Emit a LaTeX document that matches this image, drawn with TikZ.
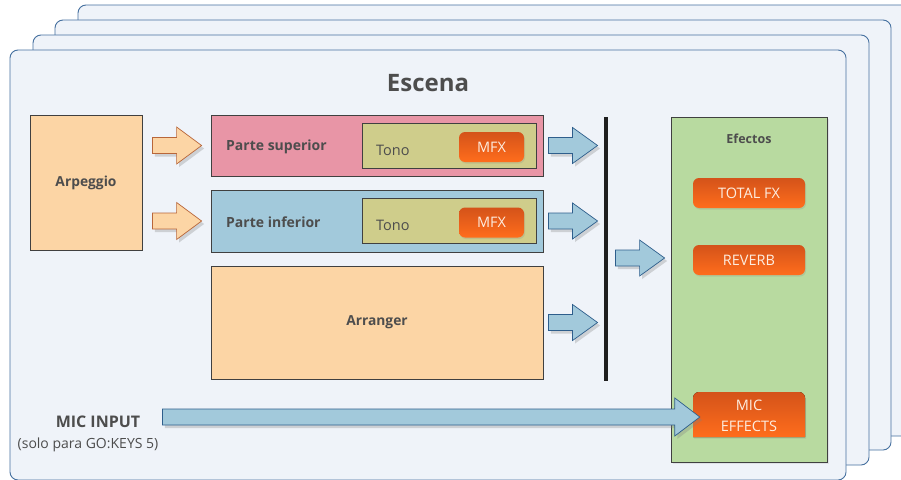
\documentclass[tikz,border=0pt]{standalone}
\usepackage{fontspec}
\setmainfont{Open Sans}
\usetikzlibrary{calc,shadows}
\definecolor{panelfill}{HTML}{EFF3F9}
\definecolor{paneldraw}{HTML}{45709F}
\definecolor{peach}{HTML}{FCD5A5}
\definecolor{pinkbox}{HTML}{E895A6}
\definecolor{bluebox}{HTML}{A2C9DB}
\definecolor{khaki}{HTML}{CFCD8B}
\definecolor{greenbox}{HTML}{B8DAA0}
\definecolor{txt}{HTML}{4D4D4D}
\definecolor{orDark}{HTML}{D4531A}
\definecolor{orLight}{HTML}{FF6D1C}
\definecolor{orArrowDraw}{HTML}{B8663A}
\definecolor{blArrowDraw}{HTML}{2E5E8C}
\definecolor{btntext}{HTML}{FDEDE0}
\newcommand\blockarrow[5][]{%
  \draw[#1] let \p1=#2, \p2=#3 in
   (\x1,\y1+#4pt) -- (\x2-25pt,\y1+#4pt) -- (\x2-25pt,\y1+#5pt) -- (\x2,\y1)
   -- (\x2-25pt,\y1-#5pt) -- (\x2-25pt,\y1-#4pt) -- (\x1,\y1-#4pt) -- cycle;}
\begin{document}
\begin{tikzpicture}[x=1pt,y=-1pt,
  panel/.style={draw=paneldraw, fill=panelfill, line width=0.9pt, rounded corners=8pt},
  box/.style={draw=black!75, line width=0.8pt, inner sep=0pt, font=\bfseries\fontsize{13.8}{16}\selectfont, text=txt},
  btn/.style={rounded corners=6pt, top color=orDark, bottom color=orLight, inner sep=0pt, text=btntext,
     drop shadow={opacity=0.2, shadow xshift=1pt, shadow yshift=-1.5pt}},
  oarrow/.style={draw=orArrowDraw, fill=peach, line width=0.7pt, line join=miter,
     drop shadow={opacity=0.3, shadow xshift=2.5pt, shadow yshift=-3pt}},
  barrow/.style={draw=blArrowDraw, fill=bluebox, line width=0.7pt, line join=miter,
     drop shadow={opacity=0.3, shadow xshift=2.5pt, shadow yshift=-3pt}},
  lbl/.style={text=txt, inner sep=0pt}
]
\useasboundingbox (0,0) rectangle (901,479);
\fill[white] (0,0) rectangle (901,479);
% stacked panels
\draw[panel] (78,5) rectangle (914,436);
\draw[panel] (55,20) rectangle (891,450);
\draw[panel] (33,35) rectangle (869,465);
\draw[panel] (10,50) rectangle (846,480);

\node[lbl, font=\bfseries\fontsize{24}{28}\selectfont] (escena) at (428,83) {Escena};

% Arpeggio
\node[box, fill=peach, minimum width=112, minimum height=135] (arp) at (86,182.5) {Arpeggio};

% Parte superior
\node[box, fill=pinkbox, minimum width=332, minimum height=61] (sup) at (377,145.5) {};
\node[lbl, anchor=west, font=\bfseries\fontsize{14}{16}\selectfont] (suplbl) at (226,147) {Parte superior};
\node[box, fill=khaki, minimum width=174, minimum height=45] (tono1) at (449,145.5) {};
\node[lbl, anchor=west, font=\fontsize{14.5}{16}\selectfont] (tono1lbl) at (376,150) {Tono};
\node[btn, minimum width=65, minimum height=30, font=\fontsize{14.5}{15}\selectfont] (mfx1) at (491.5,147) {MFX};

% Parte inferior
\node[box, fill=bluebox, minimum width=332, minimum height=62] (inf) at (377,221) {};
\node[lbl, anchor=west, font=\bfseries\fontsize{14}{16}\selectfont] (inflbl) at (226,222) {Parte inferior};
\node[box, fill=khaki, minimum width=174, minimum height=45] (tono2) at (449,220.5) {};
\node[lbl, anchor=west, font=\fontsize{14.5}{16}\selectfont] (tono2lbl) at (376,225) {Tono};
\node[btn, minimum width=65, minimum height=30, font=\fontsize{14.5}{15}\selectfont] (mfx2) at (491.5,222.5) {MFX};

% Arranger
\node[box, fill=peach, minimum width=332, minimum height=113] (arr) at (377,322.5) {Arranger};

% bar
\node[fill=black!88, minimum width=4.5, minimum height=264, inner sep=0pt] (bar) at (606,249) {};

% Efectos
\node[box, fill=greenbox, minimum width=156, minimum height=345,
  drop shadow={opacity=0.15, shadow xshift=1.5pt, shadow yshift=-2pt}] (efe) at (749,289.5) {};
\node[lbl, font=\bfseries\fontsize{12.5}{14}\selectfont] (efelbl) at (749,139) {Efectos};
\node[btn, minimum width=112, minimum height=30, font=\fontsize{14.5}{16}\selectfont] (totfx) at (749,193) {TOTAL FX};
\node[btn, minimum width=112, minimum height=30, font=\fontsize{14.5}{16}\selectfont] (reverb) at (749,260) {REVERB};
\fill[top color=orDark, bottom color=orLight, drop shadow={opacity=0.2, shadow xshift=1pt, shadow yshift=-1.5pt}]
  (693,437) [rounded corners=6pt] -- (693,392) -- (805,392) [sharp corners] -- (805,437) -- cycle;
\node[text=btntext, align=center, font=\fontsize{14.5}{21}\selectfont, inner sep=0pt,
  minimum width=112, minimum height=45] (miceff) at (749,415.5) {MIC\\EFFECTS};

% MIC input labels
\node[lbl, font=\bfseries\fontsize{16}{18}\selectfont] (micin) at (98,422) {MIC INPUT};
\node[lbl, font=\fontsize{14}{16}\selectfont] (solo) at (88,445) {(solo para GO:KEYS 5)};

% arrows
\blockarrow[oarrow]{($(arp.east|-sup.west)+(10,0)$)}{($(sup.west)+(-9,0)$)}{8}{18.5}
\blockarrow[oarrow]{($(arp.east|-inf.west)+(10,0)$)}{($(inf.west)+(-9,0)$)}{8}{18.5}
\blockarrow[barrow]{($(sup.east)+(5,0)$)}{($(sup.east-|bar.west)+(-6,0)$)}{8}{18}
\blockarrow[barrow]{($(inf.east)+(5,0)$)}{($(inf.east-|bar.west)+(-6,0)$)}{8}{18}
\blockarrow[barrow]{($(arr.east)+(5,0)$)}{($(arr.east-|bar.west)+(-6,0)$)}{8}{18}
\blockarrow[barrow]{($(bar.east|-reverb.west)+(7,-2)$)}{($(efe.west|-reverb.west)+(-6,-2)$)}{8}{18}
\blockarrow[barrow]{($(micin.east|-miceff.west)+(22,1.5)$)}{($(miceff.west)+(7,1.5)$)}{8}{19}
\end{tikzpicture}
\end{document}
